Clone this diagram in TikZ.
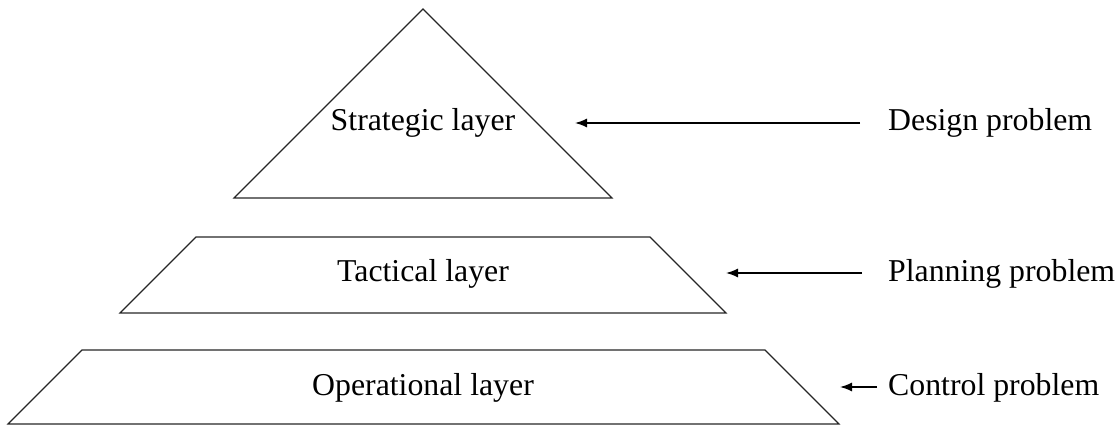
\documentclass[tikz,border=0pt]{standalone}
\usepackage{fontspec}
\setmainfont{Liberation Serif}
\usetikzlibrary{arrows.meta}
\begin{document}
\begin{tikzpicture}[x=1pt,y=-1pt,
  layer/.style={draw=black!85, line width=1.1pt, line join=miter},
  txt/.style={font=\fontsize{31.8}{38}\selectfont, inner sep=0pt},
  pointer/.style={line width=1.4pt, -{Latex[length=12pt,width=9pt]}}]
\useasboundingbox (0,0) rectangle (1120,425);

% strategic layer (triangle)
\draw[layer] (234,198) -- (423,9) -- (612,198) -- cycle;
% tactical layer (trapezoid)
\draw[layer] (120,313) -- (196,237) -- (650,237) -- (726,313) -- cycle;
% operational layer (trapezoid, bottom at the edge)
\draw[layer] (8,424) -- (82,350) -- (765,350) -- (839,424) -- cycle;

% layer names
\node[txt, anchor=base] (strat) at (423,131) {Strategic layer};
\node[txt, anchor=base] (tact)  at (423,281) {Tactical layer};
\node[txt, anchor=base] (oper)  at (423,395) {Operational layer};

% problem labels
\node[txt, anchor=base west] (design)  at (888,131) {Design problem};
\node[txt, anchor=base west] (plan)    at (888,281) {Planning problem};
\node[txt, anchor=base west] (control) at (888,395) {Control problem};

% arrow targets
\coordinate (tdesign)  at (575,123);
\coordinate (tplan)    at (726,273);
\coordinate (tcontrol) at (840,387);

\draw[pointer] ([xshift=-28pt,yshift=8pt]design.base west) -- (tdesign);
\draw[pointer] ([xshift=-26pt,yshift=8pt]plan.base west) -- (tplan);
\draw[pointer] ([xshift=-11pt,yshift=8pt]control.base west) -- (tcontrol);
\end{tikzpicture}
\end{document}
